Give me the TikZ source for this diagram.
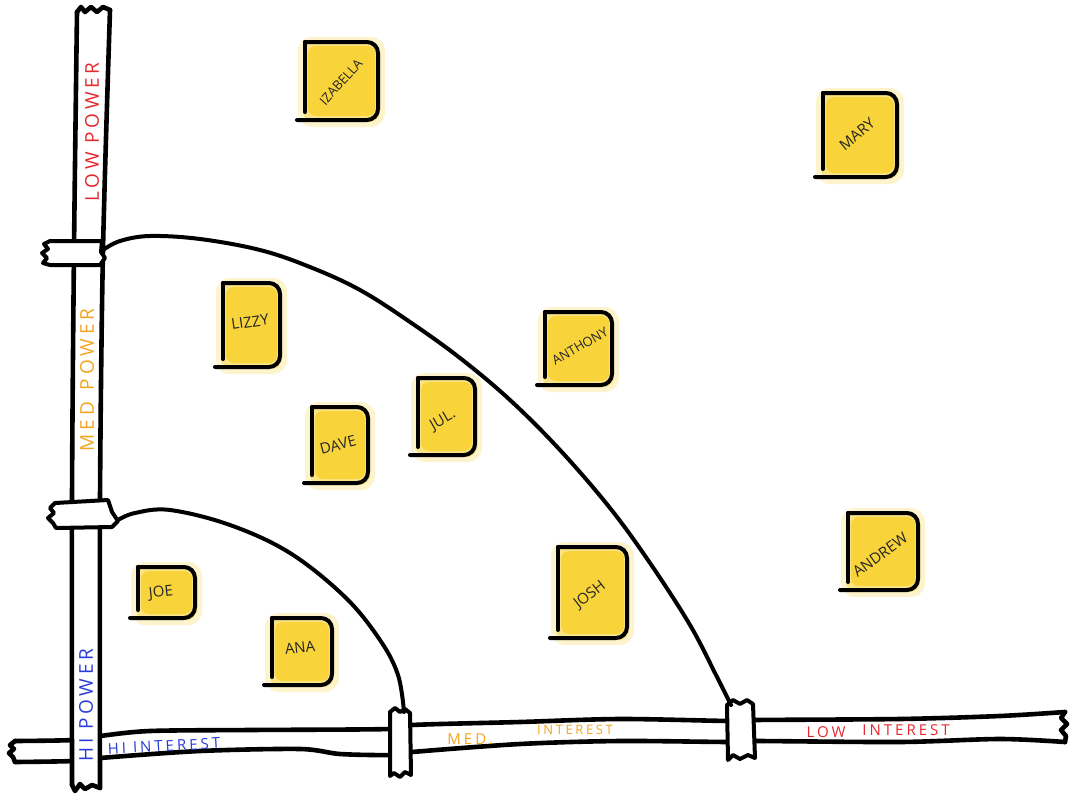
\documentclass[tikz,border=0pt]{standalone}
\usepackage{fontspec}
\setmainfont{Open Sans}
\newfontfamily\axisfont[LetterSpace=20]{Open Sans}
\definecolor{noteY}{RGB}{248,212,58}
\definecolor{lblred}{RGB}{230,40,45}
\definecolor{lblorange}{RGB}{243,165,30}
\definecolor{lblblue}{RGB}{40,60,215}
\tikzset{
  barline/.style={line width=4.6pt, line cap=round, line join=round},
  curveline/.style={line width=4pt, line cap=round},
  noteline/.style={line width=4pt, line cap=round, line join=round},
  tapebox/.style={fill=white, line width=4pt, line join=round, line cap=round},
  nametext/.style={font=\fontsize{15}{15}\selectfont, inner sep=0pt, text=black!85},
  smallname/.style={font=\fontsize{13}{13}\selectfont},
  axislabel/.style={font=\axisfont\fontsize{19}{19}\selectfont, inner sep=0pt},
  baselabel/.style={font=\axisfont\fontsize{15}{15}\selectfont, inner sep=0pt},
}
% #1 name, #2 x1, #3 y1, #4 x2, #5 y2, #6 cx, #7 cy, #8 text options, #9 text
\newcommand\postit[9]{%
  \fill[noteY, opacity=.25, rounded corners=14pt] (#2-7,-#3+5) rectangle (#4+7,-#5-7);
  \fill[noteY, opacity=.5, rounded corners=10pt] (#2-2,-#3) rectangle (#4+2,-#5-2);
  \fill[noteY, rounded corners=8pt] (#2+3,-#3-4) rectangle (#4-3,-#5+4);
  \node[nametext, #8] (#1) at (#6,-#7) {#9};
  \draw[noteline] (#2,-#3) -- (#2,-#5+8);
  \draw[noteline, rounded corners=11pt] (#2,-#3) -- (#4,-#3) -- (#4,-#5) -- (#2-8,-#5);
}
\begin{document}
\begin{tikzpicture}[x=1pt,y=1pt]
\useasboundingbox (0,0) rectangle (1071,-795);
\fill[white] (0,0) rectangle (1071,-795);

% horizontal bar
\draw[barline] plot[smooth, tension=0.5] coordinates {(15,-741) (74,-740) (100,-736) (150,-731) (250,-730) (390,-729) (412,-725) (520,-722) (620,-719) (730,-721) (755,-720) (900,-719) (1000,-716) (1065,-712)};
\draw[barline] plot[smooth, tension=0.5] coordinates {(15,-762) (74,-761) (100,-758) (200,-751) (300,-749) (340,-754) (390,-755) (412,-752) (520,-744) (620,-741) (730,-742) (755,-741) (900,-742) (1000,-739) (1065,-742)};
\draw[barline] (15,-741) -- (10,-745) -- (14,-749) -- (9,-753) -- (13,-757) -- (15,-762);
\draw[barline] (1065,-712) -- (1061,-718) -- (1067,-724) -- (1061,-730) -- (1066,-736) -- (1065,-742);

% vertical bar
\fill[white] (77,-10) -- (110,-10) -- (100,-787) -- (72,-787) -- cycle;
\draw[barline] plot[smooth] coordinates {(77,-12) (74,-250) (72,-500) (72,-785)};
\draw[barline] plot[smooth] coordinates {(110,-10) (103,-250) (100,-500) (100,-788)};
\draw[barline] (77,-12) -- (81,-7) -- (85,-12) -- (91,-7) -- (97,-12) -- (103,-7) -- (110,-10);
\draw[barline] (72,-785) -- (75,-791) -- (80,-784) -- (85,-789) -- (92,-785) -- (100,-788);

% tapes
\draw[tapebox] (102,-241) -- (50,-241) -- (44,-244) -- (48,-249) -- (42,-253) -- (47,-258) -- (43,-263) -- (50,-265) -- (100,-265) -- (105,-258) -- (101,-252) -- cycle;
\draw[tapebox] (108,-500) -- (55,-503) -- (50,-508) -- (54,-513) -- (48,-518) -- (53,-523) -- (56,-528) -- (112,-527) -- (118,-521) -- (112,-512) -- cycle;
\draw[tapebox] (390,-712) -- (395,-708) -- (400,-712) -- (405,-709) -- (410,-713) -- (411,-775) -- (405,-772) -- (400,-777) -- (394,-773) -- (390,-776) -- cycle;
\draw[tapebox] (727,-705) -- (733,-700) -- (740,-704) -- (747,-700) -- (753,-704) -- (755,-758) -- (748,-755) -- (740,-759) -- (733,-755) -- (728,-760) -- cycle;

% zone boundaries
\coordinate (outerStart) at (103,-250);
\coordinate (outerEnd) at (731,-705);
\coordinate (innerStart) at (118,-520);
\coordinate (innerEnd) at (404,-712);
\draw[curveline] plot[smooth, tension=0.6] coordinates {(103,-250) (120,-241) (150,-236) (200,-239) (260,-250) (310,-267) (360,-290) (410,-322) (460,-358) (510,-400) (560,-450) (610,-508) (650,-563) (690,-625) (716,-675) (731,-705)};
\draw[curveline] plot[smooth, tension=0.6] coordinates {(118,-520) (135,-513) (170,-510) (230,-525) (290,-553) (345,-597) (380,-640) (398,-675) (404,-712)};

% sticky notes
\postit{izabella}{305}{42}{378}{120}{341}{82}{rotate=48, smallname}{IZABELLA}
\postit{mary}{823}{93}{897}{177}{857}{134}{rotate=40}{MARY}
\postit{lizzy}{223}{283}{280}{367}{250}{322}{rotate=8}{LIZZY}
\postit{anthony}{545}{312}{612}{385}{580}{346}{rotate=30, smallname}{ANTHONY}
\postit{dave}{312}{407}{368}{483}{338}{445}{rotate=15}{DAVE}
\postit{jul}{418}{378}{475}{455}{443}{420}{rotate=30}{JUL.}
\postit{joe}{138}{567}{195}{618}{161}{593}{rotate=6}{JOE}
\postit{ana}{272}{618}{332}{685}{300}{648}{rotate=6}{ANA}
\postit{josh}{558}{547}{627}{638}{590}{595}{rotate=38}{JOSH}
\postit{andrew}{848}{513}{918}{590}{880}{555}{rotate=36}{ANDREW}

% axis labels
\node[axislabel, text=lblred, rotate=90] (lowpower) at (92,-132) {LOW POWER};
\node[axislabel, text=lblorange, rotate=90] (medpower) at (87,-380) {MED\hspace{12pt}POWER};
\node[axislabel, text=lblblue, rotate=90] (hipower) at (86,-705) {HI POWER};
\node[baselabel, text=lblblue, rotate=3] (hiint) at (164,-746) {HI INTEREST};
\node[baselabel, text=lblorange] (med) at (470,-739) {MED.};
\node[baselabel, text=lblorange, font=\axisfont\fontsize{13}{13}\selectfont] (medint) at (575,-730) {INTEREST};
\node[baselabel, text=lblred] (low) at (826,-732) {LOW};
\node[baselabel, text=lblred] (lowint) at (906,-730) {INTEREST};
\end{tikzpicture}
\end{document}
